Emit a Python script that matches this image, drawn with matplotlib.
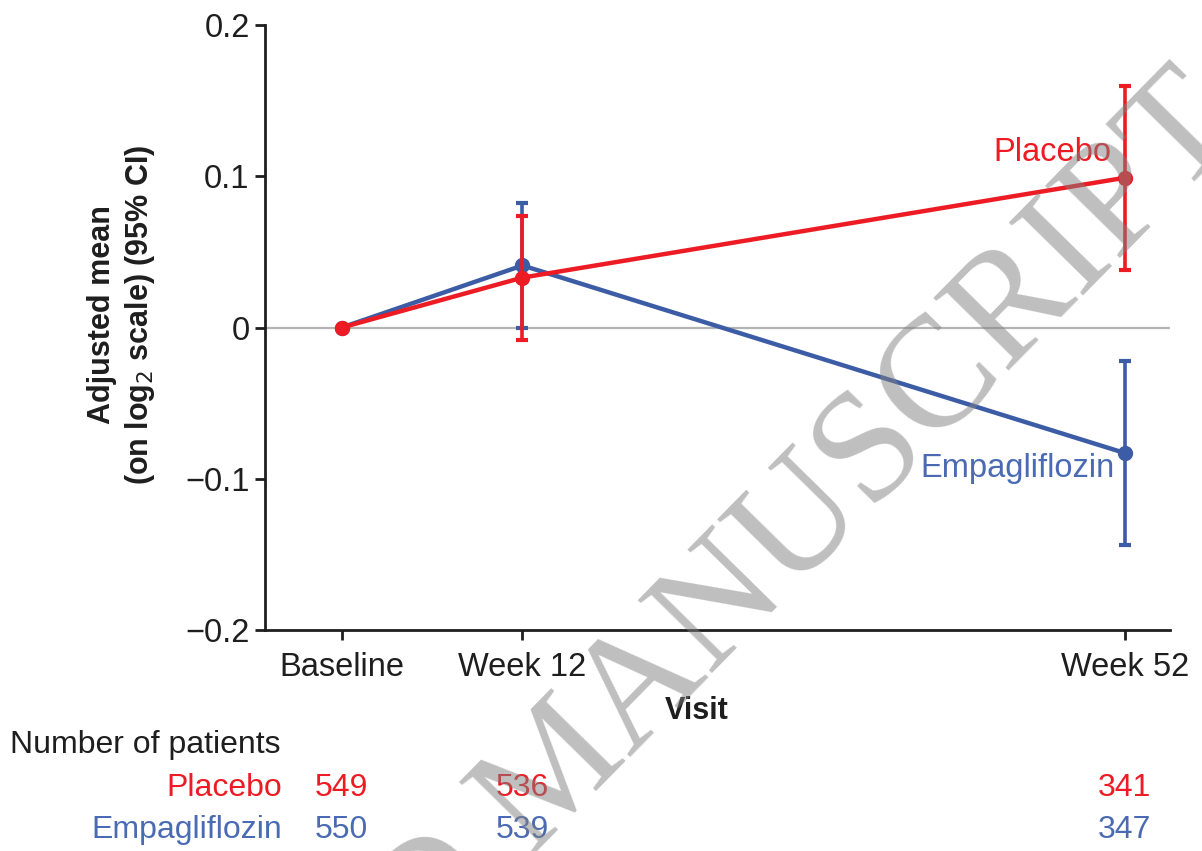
import matplotlib
matplotlib.use("Agg")
import matplotlib.pyplot as plt
import matplotlib.transforms as mtransforms

# data
visits = [0, 12, 52]
visit_labels = ["Baseline", "Week 12", "Week 52"]

placebo_mean = [0.0, 0.033, 0.099]
placebo_lo = [0.0, -0.008, 0.038]
placebo_hi = [0.0, 0.074, 0.160]

empa_mean = [0.0, 0.041, -0.083]
empa_lo = [0.0, 0.000, -0.144]
empa_hi = [0.0, 0.082, -0.022]

n_placebo = [549, 536, 341]
n_empa = [550, 539, 347]

red = "#ed1c24"
blue = "#3d5ca6"
blue_txt = "#4a6bb3"
dark = "#1e1e1e"

plt.rcParams["font.family"] = ["Liberation Sans", "DejaVu Sans"]

fig = plt.figure(figsize=(12.02, 8.51), dpi=100)
ax = fig.add_axes([265 / 1202, 1 - 630 / 851, (1170 - 265) / 1202, (630 - 25) / 851])

ax.axhline(0, color="#b4b4b4", lw=1.6, zorder=1)


def draw_series(mean, lo, hi, col, z):
    err_lo = [m - l for m, l in zip(mean, lo)]
    err_hi = [h - m for m, h in zip(mean, hi)]
    xs = visits[1:]
    ax.errorbar(xs, mean[1:], yerr=[err_lo[1:], err_hi[1:]], fmt="none",
                ecolor=col, elinewidth=2.6, capsize=4.5, capthick=3, zorder=z)
    ax.plot(visits, mean, color=col, lw=3.2, marker="o", ms=10, zorder=z + 0.5)


draw_series(empa_mean, empa_lo, empa_hi, blue, 3)
draw_series(placebo_mean, placebo_lo, placebo_hi, red, 4)

ax.text(51.1, 0.116, "Placebo", color=red, fontsize=23.5, ha="right", va="center")
ax.text(51.3, -0.0935, "Empagliflozin", color=blue_txt, fontsize=23.5, ha="right", va="center")

ax.set_xlim(-5.1, 55.0)
ax.set_ylim(-0.2, 0.2)
ax.set_xticks(visits)
ax.set_xticklabels(visit_labels)
ax.set_yticks([-0.2, -0.1, 0, 0.1, 0.2])
ax.set_yticklabels(["\u22120.2", "\u22120.1", "0", "0.1", "0.2"])
ax.tick_params(axis="both", labelsize=23.5, colors=dark, length=7, width=2, direction="out")
ax.tick_params(axis="x", pad=9)
ax.tick_params(axis="y", pad=4)

for side in ["top", "right"]:
    ax.spines[side].set_visible(False)
for side in ["left", "bottom"]:
    ax.spines[side].set_linewidth(2)
    ax.spines[side].set_color(dark)

ax.set_xlabel("Visit", fontsize=22, fontweight="bold", color=dark)
ax.xaxis.set_label_coords((697 - 265) / 905, (630 - 696) / 605)
ax.set_ylabel("Adjusted mean\n(on log$_2$ scale) (95% CI)", fontsize=22,
              fontweight="bold", color=dark, linespacing=1.25)
ax.yaxis.set_label_coords((157 - 265) / 905, (630 - 315) / 605)

# number of patients table
trans = mtransforms.blended_transform_factory(ax.transData, fig.transFigure)
fs_tab = 23
fig.text(10 / 1202, 1 - 745 / 851, "Number of patients", fontsize=fs_tab, color=dark,
         ha="left", va="center")
fig.text(282 / 1202, 1 - 788 / 851, "Placebo", fontsize=fs_tab, color=red,
         ha="right", va="center")
fig.text(282 / 1202, 1 - 830 / 851, "Empagliflozin", fontsize=fs_tab, color=blue_txt,
         ha="right", va="center")
for xv, a, b in zip(visits, n_placebo, n_empa):
    ax.text(xv, 1 - 788 / 851, str(a), transform=trans, fontsize=fs_tab, color=red,
            ha="center", va="center", clip_on=False)
    ax.text(xv, 1 - 830 / 851, str(b), transform=trans, fontsize=fs_tab, color=blue_txt,
            ha="center", va="center", clip_on=False)

# watermark
fig.text(1246 / 1202, 1 - 130 / 851, "ACCEPTED MANUSCRIPT", fontsize=114,
         family=["Liberation Serif", "DejaVu Serif"], color="#808080", alpha=0.5,
         rotation=45.5, rotation_mode="anchor", ha="right", va="baseline", zorder=10)

fig.savefig("out.png", dpi=100)
